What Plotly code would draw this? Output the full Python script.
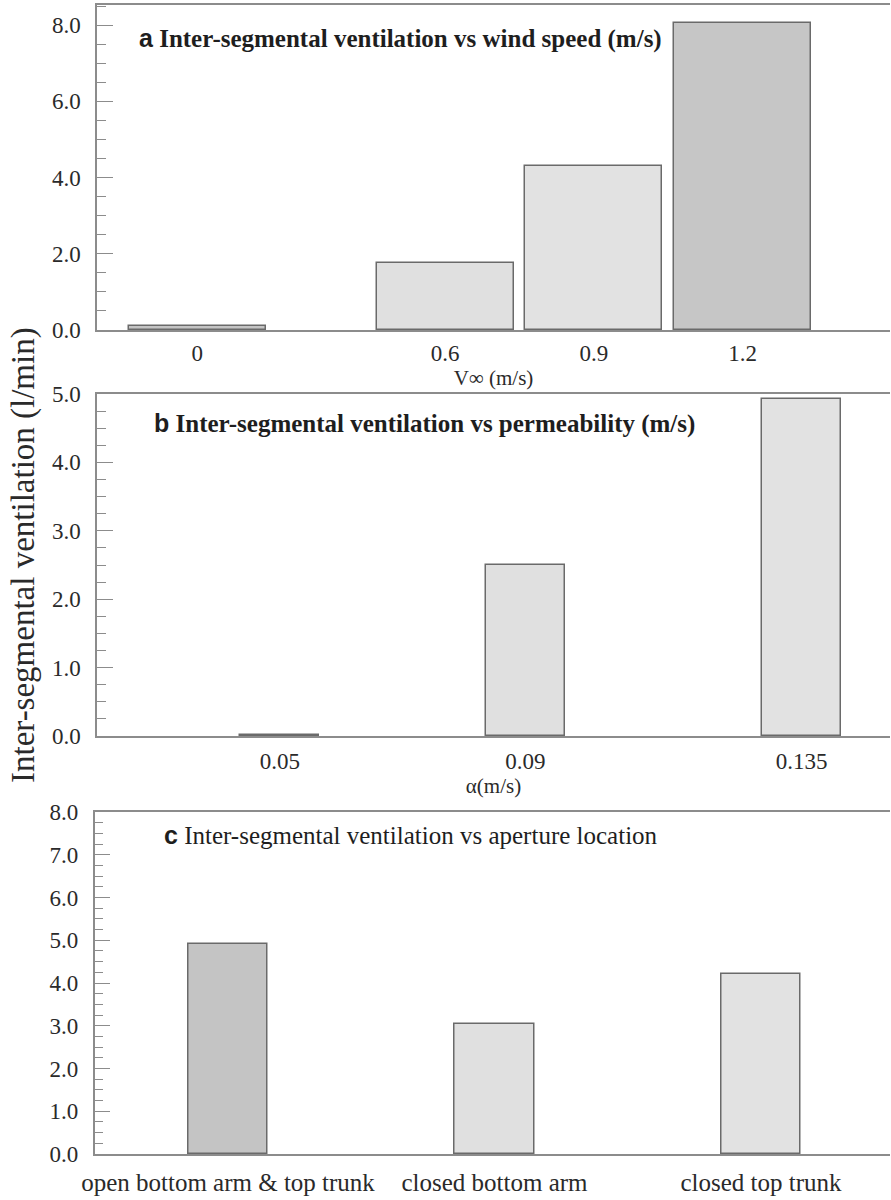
import plotly.graph_objects as go

# ---- data ----
a_speeds = ["0", "0.6", "0.9", "1.2"]
a_values = [0.1, 1.75, 4.3, 8.05]

b_alpha = [0.05, 0.09, 0.135]
b_labels = ["0.05", "0.09", "0.135"]
b_values = [0.02, 2.5, 4.93]

c_locations = ["open bottom arm & top trunk", "closed bottom arm", "closed top trunk"]
c_values = [4.92, 3.04, 4.2]

# ---- styles ----
a_colors = ["#c4c4c4", "#e0e0e0", "#e2e2e2", "#c6c6c6"]
b_colors = ["#c9c9c9", "#e0e0e0", "#e2e2e2"]
c_colors = ["#c4c4c4", "#e0e0e0", "#e2e2e2"]
# spacer slots so the wind-speed categories sit at the original uneven spacing
a_slots = ["0", "s1", "s2", "s3", "s4", "0.6", "s5", "s6", "0.9", "s7", "s8", "1.2"]

W, H = 891, 1200
SERIF = "Liberation Serif, Times New Roman, serif"
AX = "#8c8c8c"
TXT = "#2a2a2a"

def py(px):
    return 1 - px / H

fig = go.Figure()
fig.add_trace(go.Bar(x=a_speeds, y=a_values, width=2.76, marker=dict(color=a_colors, line=dict(color="#6a6a6a", width=1.5)),
                     xaxis="x", yaxis="y", showlegend=False))
fig.add_trace(go.Bar(x=b_alpha, y=b_values, width=0.0129, marker=dict(color=b_colors, line=dict(color="#6a6a6a", width=1.5)),
                     xaxis="x2", yaxis="y2", showlegend=False))
fig.add_trace(go.Bar(x=c_locations, y=c_values, width=0.30, marker=dict(color=c_colors, line=dict(color="#6a6a6a", width=1.5)),
                     xaxis="x3", yaxis="y3", showlegend=False))

tickfont = dict(family=SERIF, size=23, color=TXT)

def xax(domain, anchor, **kw):
    d = dict(domain=domain, anchor=anchor, showline=True, linecolor=AX, linewidth=1.5, mirror=True,
             ticks="", showgrid=False, zeroline=False, tickfont=tickfont, automargin=False)
    d.update(kw)
    return d

def yax(domain, anchor, rng, dtick, minor, **kw):
    d = dict(domain=domain, anchor=anchor, range=rng, showline=True, linecolor=AX, linewidth=1.5,
             ticks="inside", ticklen=16, tickwidth=1.2, tickcolor=AX, dtick=dtick, tick0=0,
             tickformat=".1f", showgrid=False, zeroline=False, tickfont=tickfont, automargin=False,
             minor=dict(ticks="inside", ticklen=9, tickcolor=AX, tickwidth=1.2, dtick=minor, tick0=0, showgrid=False),
             ticklabelstandoff=10)
    d.update(kw)
    return d

xd = [97 / W, 890 / W]
axis_title_font = dict(family=SERIF, size=21, color=TXT)
fig.update_layout(
    width=W, height=H, margin=dict(l=0, r=0, t=0, b=0, autoexpand=False),
    plot_bgcolor="white", paper_bgcolor="white", bargap=0,
    xaxis=xax(xd, "y", type="category", categoryorder="array", categoryarray=a_slots,
              tickmode="array", tickvals=a_speeds, ticktext=a_speeds, range=[-2.02, 13.97],
              title=dict(text="V\u221e (m/s)", font=axis_title_font, standoff=2),
              ticklabelstandoff=2),
    yaxis=yax([py(330), py(5)], "x", [0, 8.53], 2, 0.5),
    xaxis2=xax(xd, "y2", range=[0.0202, 0.1494], tickmode="array", tickvals=b_alpha, ticktext=b_labels,
               title=dict(text="\u03b1(m/s)", font=axis_title_font, standoff=2),
               ticklabelstandoff=4),
    yaxis2=yax([py(736), py(394)], "x2", [0, 5.0], 1, 0.25),
    xaxis3=xax([94.5 / W, 890 / W], "y3", type="category", range=[-0.501, 2.484], ticklabelstandoff=5,
               tickfont=dict(family=SERIF, size=25, color=TXT)),
    yaxis3=yax([py(1154), py(812)], "x3", [0, 8.0], 1, 0.25),
)

def panel_title(letter, text, xref, yref, x, y, bold):
    t = f"<b>{text}</b>" if bold else text
    fig.add_annotation(text=f"<span style='font-family:Liberation Sans, Arial, sans-serif'><b>{letter}</b></span> {t}",
                       xref=xref, yref=yref, x=x, y=y, xanchor="left", yanchor="middle", showarrow=False,
                       font=dict(family=SERIF, size=25, color="#1e1e1e"))

panel_title("a", "Inter-segmental ventilation vs wind speed (m/s)", "x domain", "y domain", 0.0504, 1 - (38 - 5) / 325, True)
panel_title("b", "Inter-segmental ventilation vs permeability (m/s)", "x2 domain", "y2 domain", 0.0694, 1 - (423 - 394) / 342, True)
panel_title("c", "Inter-segmental ventilation vs aperture location", "x3 domain", "y3 domain", 0.0849, 1 - (835 - 812) / 342, False)

fig.add_annotation(text="Inter-segmental ventilation (l/min)", textangle=-90, xref="paper", yref="paper",
                   x=23 / W, y=py(555), xanchor="center", yanchor="middle", showarrow=False,
                   font=dict(family=SERIF, size=33, color=TXT))

fig.write_html("out.html")
